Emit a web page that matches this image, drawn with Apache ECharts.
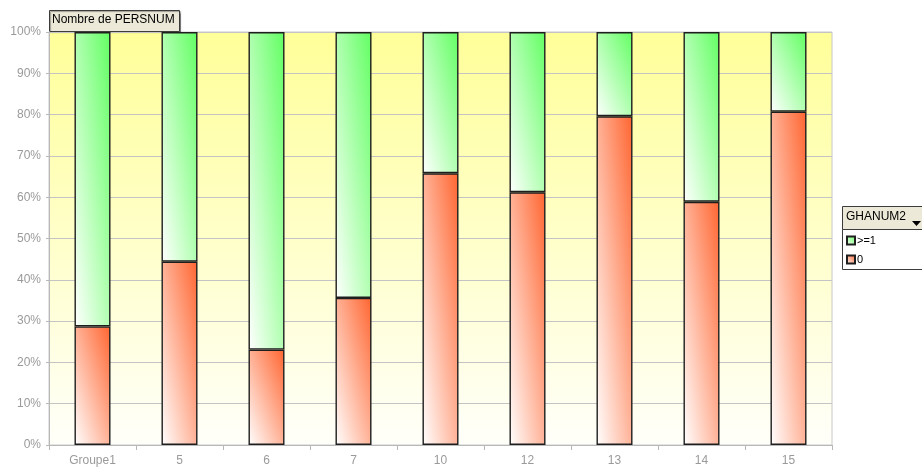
<!DOCTYPE html>
<html>
<head>
<meta charset="utf-8">
<script src="https://cdn.jsdelivr.net/npm/echarts@6/dist/echarts.min.js"></script>
<style>
  html, body { margin: 0; padding: 0; background: #ffffff; }
  #chart { width: 922px; height: 468px; }
</style>
</head>
<body>
<div id="chart"></div>
<script>
// Share of PERSNUM by group, split on GHANUM2 (percent of each column)
const categories = ['Groupe1', '5', '6', '7', '10', '12', '13', '14', '15'];
const shareZero = [28.7, 44.4, 23.1, 35.6, 65.8, 61.2, 79.6, 58.9, 80.7];
const shareOneOrMore = shareZero.map(v => +(100 - v).toFixed(1));
const yTicks = { min: 0, max: 100, interval: 10 };

const FONT = '"Liberation Sans", Arial, sans-serif';
const GRID = { left: 49, right: 90, top: 32, bottom: 23 };
const BAR_W = 36;
const PLOT_H = 468 - GRID.top - GRID.bottom;

const GREEN = '#62ff62';
const RED = '#ff6530';

// Diagonal fill (white lower-left -> colour upper-right) measured in the
// bar's own box, so the iso-lines follow the box diagonal whatever its height.
function diagFill(color, w, h) {
  const d = w * w + h * h;
  return new echarts.graphic.LinearGradient(
    0, 1, 2 * h * h / d, 1 - 2 * w * w / d,
    [{ offset: 0, color: '#ffffff' }, { offset: 1, color: color }]
  );
}

function styledData(values, color) {
  return values.map(v => ({
    value: v,
    itemStyle: { color: diagFill(color, BAR_W, v / 100 * PLOT_H) }
  }));
}

const chart = echarts.init(document.getElementById('chart'), null, { renderer: 'canvas' });

chart.setOption({
  animation: false,
  backgroundColor: '#ffffff',
  textStyle: { fontFamily: FONT },
  grid: {
    left: GRID.left, right: GRID.right, top: GRID.top, bottom: GRID.bottom,
    show: true,
    borderColor: '#c8c8c8',
    borderWidth: 1,
    backgroundColor: new echarts.graphic.LinearGradient(0, 0, 0, 1, [
      { offset: 0, color: '#ffff99' },
      { offset: 1, color: '#fffffa' }
    ])
  },
  legend: {
    data: ['>=1', '0'],
    orient: 'vertical',
    left: 846,
    top: 235,
    padding: 0,
    itemWidth: 8,
    itemHeight: 8,
    itemGap: 8,
    icon: 'rect',
    selectedMode: false,
    textStyle: { fontFamily: FONT, fontSize: 11, color: '#000000', padding: [0, 0, 0, -3] }
  },
  xAxis: {
    type: 'category',
    data: categories,
    axisLine: { lineStyle: { color: '#b8b8b8' } },
    axisTick: { show: true, length: 5, lineStyle: { color: '#b8b8b8' } },
    axisLabel: { color: '#9a9a9a', fontSize: 12, fontFamily: FONT, margin: 10 }
  },
  yAxis: {
    type: 'value',
    min: yTicks.min,
    max: yTicks.max,
    interval: yTicks.interval,
    axisLine: { show: true, lineStyle: { color: '#b8b8b8' } },
    axisTick: { show: true, length: 3, lineStyle: { color: '#b8b8b8' } },
    axisLabel: { formatter: '{value}%', color: '#9a9a9a', fontSize: 12, fontFamily: FONT, margin: 8 },
    splitLine: { lineStyle: { color: '#c4c4c4', width: 1 } }
  },
  series: [
    {
      name: '0',
      type: 'bar',
      stack: 'total',
      barWidth: BAR_W,
      itemStyle: { color: diagFill(RED, 1, 1), borderColor: '#1e1e1e', borderWidth: 1.4 },
      data: styledData(shareZero, RED)
    },
    {
      name: '>=1',
      type: 'bar',
      stack: 'total',
      barWidth: BAR_W,
      itemStyle: { color: diagFill(GREEN, 1, 1), borderColor: '#1e1e1e', borderWidth: 1.4 },
      data: styledData(shareOneOrMore, GREEN)
    }
  ],
  graphic: [
    // field button for the data field
    {
      type: 'rect', left: 49, top: 10,
      shape: { width: 130, height: 21 },
      style: { fill: '#ece9d8', stroke: '#3c3c3c', lineWidth: 1,
               shadowColor: 'rgba(0,0,0,0.35)', shadowOffsetX: 1, shadowOffsetY: 1, shadowBlur: 1 }
    },
    {
      type: 'text', left: 52, top: 14,
      style: { text: 'Nombre de PERSNUM', fontFamily: FONT, fontSize: 12, fill: '#000000' }
    },
    // legend panel with its field button
    {
      type: 'rect', left: 842, top: 229,
      shape: { width: 82, height: 40 },
      style: { fill: '#ffffff', stroke: '#3c3c3c', lineWidth: 1 }
    },
    {
      type: 'rect', left: 842, top: 206,
      shape: { width: 82, height: 23 },
      style: { fill: '#ece9d8', stroke: '#3c3c3c', lineWidth: 1 }
    },
    {
      type: 'text', left: 846, top: 211,
      style: { text: 'GHANUM2', fontFamily: FONT, fontSize: 12, fill: '#000000' }
    },
    {
      type: 'polygon',
      shape: { points: [[912, 221], [921, 221], [916.5, 226]] },
      style: { fill: '#000000' }
    }
  ]
});
</script>
</body>
</html>
